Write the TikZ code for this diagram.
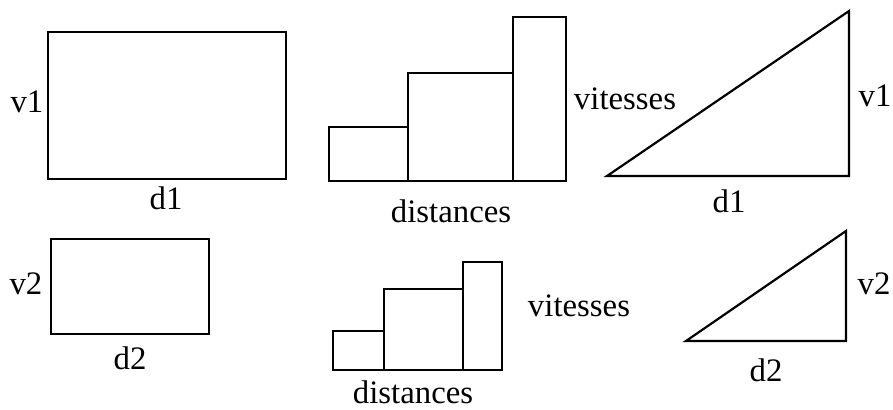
\documentclass[tikz,border=0pt]{standalone}
\usepackage{fontspec}
\setmainfont{Liberation Serif}
\usepackage{tikz}
\usetikzlibrary{positioning}
\tikzset{
  outline/.style={line width=1.1pt, line join=miter},
  lbl/.style={font=\fontsize{16.4}{19}\selectfont, inner sep=0pt, anchor=base},
}

\begin{document}
\begin{tikzpicture}[x=0.5pt, y=-0.5pt]
    \useasboundingbox (0,0) rectangle (893,410);
    % first row: rectangle
    \draw[outline] (48,32) rectangle (286,179);
    \node[lbl] (vOneRect) at (27,112.5) {v1};
    \node[lbl] (dOneRect) at (166,210) {d1};
    % first row: bars
    \draw[outline] (329,181) rectangle (408,127);
    \draw[outline] (408,181) rectangle (513,73);
    \draw[outline] (513,181) rectangle (566,17);
    \node[lbl] (distOne) at (451,223) {distances};
    \node[lbl] (vitOne) at (625,110) {vitesses};
    % first row: triangle
    \draw[outline] (607,176) -- (849,176) -- (849,11) -- cycle;
    \node[lbl] (vOneTri) at (875,107) {v1};
    \node[lbl] (dOneTri) at (729,213) {d1};
    % second row: rectangle
    \draw[outline] (51,239) rectangle (209,334);
    \node[lbl] (vTwoRect) at (26,295) {v2};
    \node[lbl] (dTwoRect) at (130,370) {d2};
    % second row: bars
    \draw[outline] (333,370) rectangle (384,331);
    \draw[outline] (384,370) rectangle (463,289);
    \draw[outline] (463,370) rectangle (502,262);
    \node[lbl] (distTwo) at (413,404) {distances};
    \node[lbl] (vitTwo) at (579,317) {vitesses};
    % second row: triangle
    \draw[outline] (686,341) -- (846,341) -- (846,231) -- cycle;
    \node[lbl] (vTwoTri) at (874,295) {v2};
    \node[lbl] (dTwoTri) at (766,381.5) {d2};
\end{tikzpicture}
\end{document}
